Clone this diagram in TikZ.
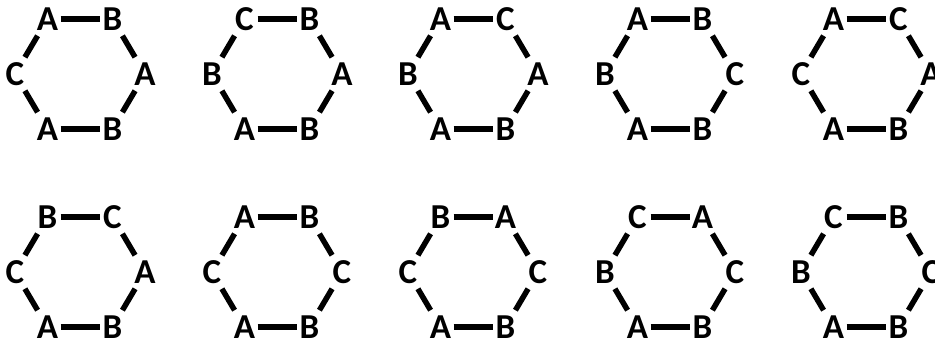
\documentclass[tikz,border=0pt]{standalone}
\usepackage{fontspec}
\setmainfont{Carlito}
\begin{document}
\begin{tikzpicture}[x=1pt,y=1pt,
  lbl/.style={font=\fontsize{35}{40}\selectfont\bfseries, inner sep=0pt, text=black},
  edgeline/.style={line width=5.5pt, black},
  hz/.style={edgeline, shorten <=13pt, shorten >=13pt},
  dg/.style={edgeline, shorten <=19.5pt, shorten >=19.5pt}]
\useasboundingbox (0,0) rectangle (935,346);
\clip (0,0) rectangle (935,346);
\foreach \i/\cx/\cy/\tl/\tr/\l/\r/\bl/\br in {
  1/80/272/A/B/C/A/A/B,
  2/277/272/C/B/B/A/A/B,
  3/473/272/A/C/B/A/A/B,
  4/670/272/A/B/B/C/A/B,
  5/866/272/A/C/C/A/A/B,
  6/80/74/B/C/C/A/A/B,
  7/277/74/A/B/C/C/A/B,
  8/473/74/B/A/C/C/A/B,
  9/670/74/C/A/B/C/A/B,
  10/866/74/C/B/B/C/A/B}{
  \node[lbl] (h\i tl) at (\cx-32.5,\cy+55) {\tl};
  \node[lbl] (h\i tr) at (\cx+32.5,\cy+55) {\tr};
  \node[lbl] (h\i l)  at (\cx-65,\cy) {\l};
  \node[lbl] (h\i r)  at (\cx+65,\cy) {\r};
  \node[lbl] (h\i bl) at (\cx-32.5,\cy-55) {\bl};
  \node[lbl] (h\i br) at (\cx+32.5,\cy-55) {\br};
  \draw[hz] (h\i tl.center) -- (h\i tr.center);
  \draw[hz] (h\i bl.center) -- (h\i br.center);
  \draw[dg] (h\i tl.center) -- (h\i l.center);
  \draw[dg] (h\i l.center) -- (h\i bl.center);
  \draw[dg] (h\i tr.center) -- (h\i r.center);
  \draw[dg] (h\i r.center) -- (h\i br.center);
}
\end{tikzpicture}
\end{document}
